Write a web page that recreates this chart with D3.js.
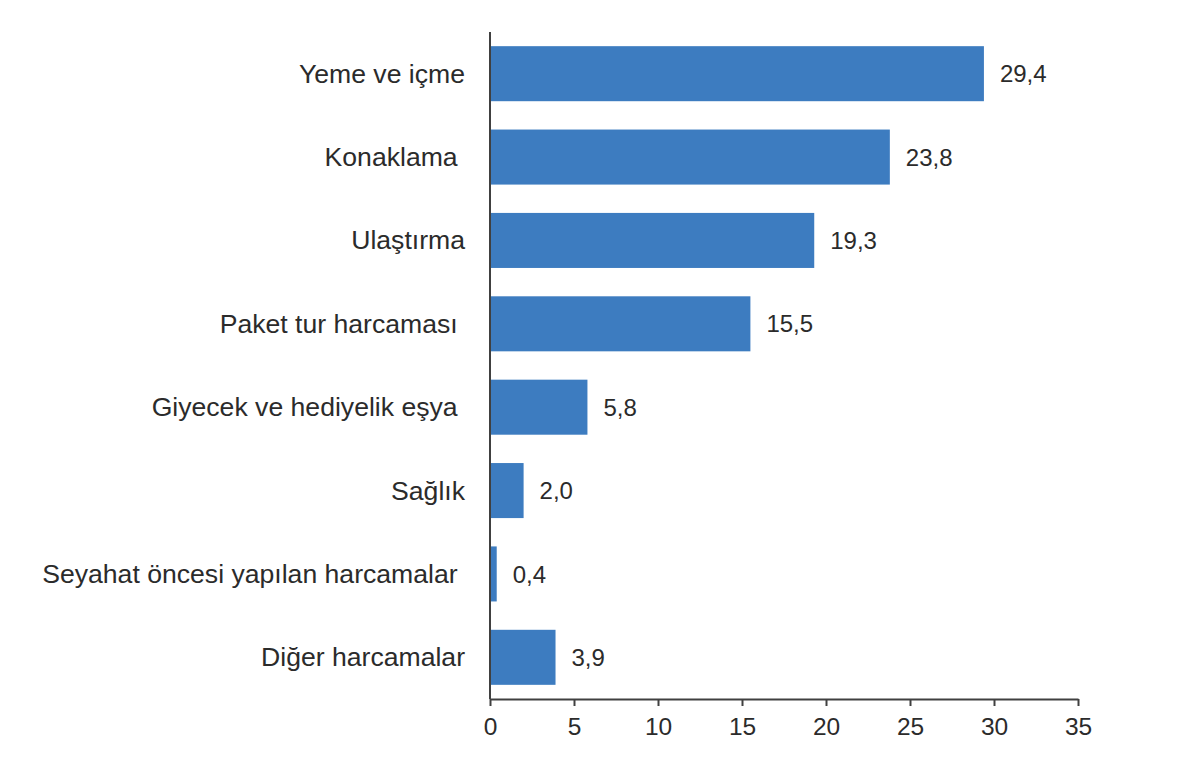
<!DOCTYPE html>
<html>
<head>
<meta charset="utf-8">
<script src="https://cdn.jsdelivr.net/npm/d3@7"></script>
<style>
  html, body { margin: 0; padding: 0; background: #ffffff; }
  svg { display: block; }
  text { font-family: "Liberation Sans", Arial, sans-serif; fill: #2b2b2b; }
</style>
</head>
<body>
<svg id="chart" width="1200" height="777"></svg>
<script>
const categories = [
  "Yeme ve içme",
  "Konaklama ",
  "Ulaştırma",
  "Paket tur harcaması ",
  "Giyecek ve hediyelik eşya ",
  "Sağlık",
  "Seyahat öncesi yapılan harcamalar ",
  "Diğer harcamalar"
];
const values = [29.4, 23.8, 19.3, 15.5, 5.8, 2.0, 0.4, 3.9];
const xTicks = [0, 5, 10, 15, 20, 25, 30, 35];

const svg = d3.select("#chart");
const plotLeft = 490, plotRight = 1078, plotTop = 32, plotBottom = 699;

const x = d3.scaleLinear().domain([0, 35]).range([plotLeft, plotRight]);
const y = d3.scaleBand().domain(categories).range([plotTop, plotBottom])
  .paddingInner(0.34).paddingOuter(0.17);

const data = categories.map((c, i) => ({ c, v: values[i] }));

svg.selectAll("rect.bar").data(data).enter().append("rect")
  .attr("class", "bar")
  .attr("x", x(0))
  .attr("y", d => y(d.c))
  .attr("width", d => x(d.v) - x(0))
  .attr("height", y.bandwidth())
  .attr("fill", "#3d7cc0");

// value labels
const fmt = v => v.toFixed(1).replace(".", ",");
svg.selectAll("text.val").data(data).enter().append("text")
  .attr("class", "val")
  .attr("x", d => x(d.v) + 16)
  .attr("y", d => y(d.c) + y.bandwidth() / 2)
  .attr("dy", "0.36em")
  .attr("font-size", 24)
  .text(d => fmt(d.v));

// category labels
svg.selectAll("text.cat").data(data).enter().append("text")
  .attr("class", "cat")
  .attr("x", 465)
  .attr("y", d => y(d.c) + y.bandwidth() / 2)
  .attr("dy", "0.34em")
  .attr("text-anchor", "end")
  .attr("font-size", 26.6)
  .style("white-space", "pre")
  .text(d => d.c);

// x axis
const xAxis = d3.axisBottom(x).tickValues(xTicks).tickSize(7).tickSizeOuter(0).tickPadding(12)
  .tickFormat(d => String(d));
const gx = svg.append("g").attr("transform", `translate(0,${plotBottom})`).call(xAxis);
gx.select(".domain").attr("stroke", "#404040").attr("stroke-width", 2);
gx.selectAll(".tick line").attr("stroke", "#404040").attr("stroke-width", 2);
gx.selectAll(".tick text").attr("font-size", 24.5).attr("fill", "#2b2b2b")
  .attr("font-family", "Liberation Sans, Arial, sans-serif");

// y axis line
svg.append("line")
  .attr("x1", plotLeft).attr("x2", plotLeft)
  .attr("y1", plotTop).attr("y2", plotBottom)
  .attr("stroke", "#404040").attr("stroke-width", 2);
</script>
</body>
</html>
